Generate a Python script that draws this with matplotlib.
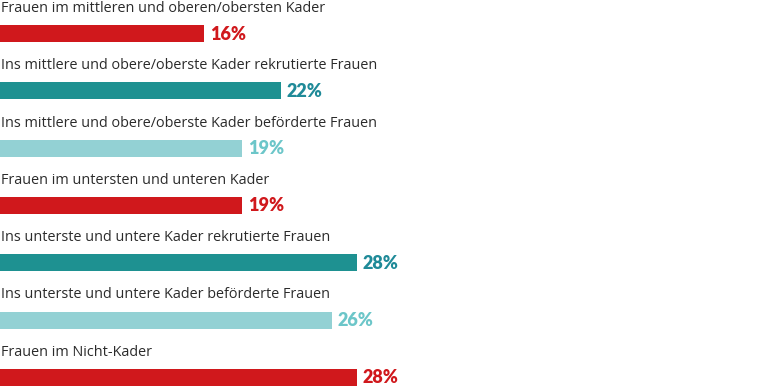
import matplotlib.pyplot as plt

# data
labels = [
    "Frauen im mittleren und oberen/obersten Kader",
    "Ins mittlere und obere/oberste Kader rekrutierte Frauen",
    "Ins mittlere und obere/oberste Kader beförderte Frauen",
    "Frauen im untersten und unteren Kader",
    "Ins unterste und untere Kader rekrutierte Frauen",
    "Ins unterste und untere Kader beförderte Frauen",
    "Frauen im Nicht-Kader",
]
values = [16, 22, 19, 19, 28, 26, 28]

red, teal, light = "#d0181c", "#1e9191", "#93d1d4"
colors = [red, teal, light, red, teal, light, red]
text_colors = ["#d0181c", "#1f8a98", "#6cc6c9", "#d0181c", "#1f8a98", "#6cc6c9", "#d0181c"]

fig = plt.figure(figsize=(7.68, 3.86), dpi=100)
ax = fig.add_axes([0, 0, 1, 1])
ax.set_xlim(0, 60.2)
ax.set_ylim(386, 0)  # pixel-like vertical space, top down
ax.axis("off")

step = 57.3
for i, (lab, v, c, tc) in enumerate(zip(labels, values, colors, text_colors)):
    yc = 33.5 + i * step
    ax.barh(yc, v, height=17, color=c, left=0)
    ax.text(0.05, yc - 17.5, lab, fontsize=10.4, family="Open Sans", color="#2b2b2b",
            va="bottom", ha="left")
    ax.text(v + 0.45, yc + 0.5, f"{v}%", fontsize=13, family="Lato",
            fontweight="heavy", color=tc, va="center", ha="left")

fig.savefig("out.png", dpi=100)
